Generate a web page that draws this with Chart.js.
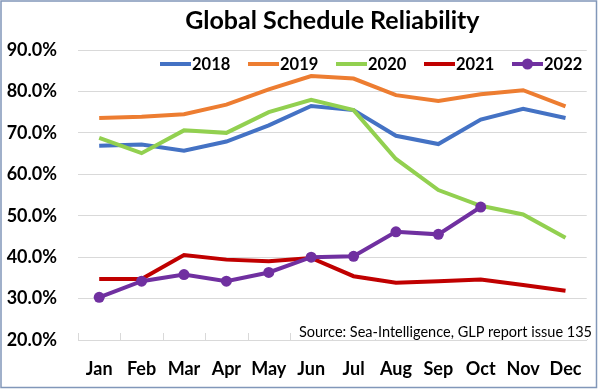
<!DOCTYPE html>
<html>
<head>
<meta charset="utf-8">
<script src="https://cdn.jsdelivr.net/npm/chart.js@4/dist/chart.umd.min.js"></script>
<style>
  html, body { margin: 0; padding: 0; background: #fff; }
  #wrap { width: 600px; height: 390px; position: relative; }
</style>
</head>
<body>
<div id="wrap"><canvas id="chart" width="600" height="390"></canvas></div>
<script>
// ---- data ----
const months = ['Jan', 'Feb', 'Mar', 'Apr', 'May', 'Jun', 'Jul', 'Aug', 'Sep', 'Oct', 'Nov', 'Dec'];
const years = ['2018', '2019', '2020', '2021', '2022'];
const rel2018 = [66.9, 67.2, 65.7, 67.9, 71.8, 76.5, 75.5, 69.3, 67.3, 73.2, 75.8, 73.6];
const rel2019 = [73.6, 73.9, 74.5, 76.8, 80.5, 83.7, 83.1, 79.1, 77.7, 79.3, 80.3, 76.4];
const rel2020 = [68.8, 65.1, 70.6, 70.0, 75.0, 78.0, 75.5, 63.7, 56.2, 52.4, 50.3, 44.7];
const rel2021 = [34.7, 34.7, 40.5, 39.4, 39.0, 39.8, 35.4, 33.8, 34.2, 34.6, 33.3, 31.9];
const rel2022 = [30.3, 34.2, 35.8, 34.2, 36.3, 40.0, 40.2, 46.1, 45.5, 52.1];
const yTicks = [20, 30, 40, 50, 60, 70, 80, 90];
const sourceNote = 'Source: Sea-Intelligence, GLP report issue 135';

const seriesColors = ['#4472C4', '#ED7D31', '#92D050', '#C00000', '#7030A0'];
const seriesData = [rel2018, rel2019, rel2020, rel2021, rel2022];

Chart.defaults.font.family = 'Lato, "Open Sans", sans-serif';
Chart.defaults.color = '#000';

const datasets = years.map((y, i) => ({
    label: y,
    data: seriesData[i],
    borderColor: seriesColors[i],
    backgroundColor: seriesColors[i],
    borderWidth: 4,
    tension: 0,
    pointRadius: i === 4 ? 5.5 : 0,
    pointHoverRadius: i === 4 ? 5.5 : 0,
    pointBorderWidth: 0,
    order: 5 - i,   // later years drawn on top
}));

/* ---- overlay: inward ticks, source note, legend, frame ---- */
const overlay = {
    id: 'overlay',
    afterDraw(chart) {
        const ctx = chart.ctx;
        const xs = chart.scales.x;
        const bottom = chart.chartArea.bottom;
        ctx.save();

        // small tick marks pointing up at category boundaries
        ctx.strokeStyle = '#d9d9d9';
        ctx.lineWidth = 1;
        const step = xs.width / months.length;
        for (let i = 0; i <= months.length; i++) {
            const x = Math.round(xs.left + i * step) + 0.5;
            ctx.beginPath();
            ctx.moveTo(x, bottom - 7);
            ctx.lineTo(x, bottom);
            ctx.stroke();
        }

        // source note with white box
        ctx.fillStyle = '#fff';
        ctx.fillRect(300, 322, 295, 17);
        ctx.fillStyle = '#000';
        ctx.font = '14.5px Lato, "Open Sans", sans-serif';
        ctx.textAlign = 'right';
        ctx.textBaseline = 'middle';
        ctx.fillText(sourceNote, 592, 332);

        // legend
        ctx.font = 'bold 16.5px Lato, "Open Sans", sans-serif';
        ctx.textAlign = 'left';
        chart.data.datasets.forEach((ds, i) => {
            const x0 = 160 + i * 88;
            const y = 64;
            ctx.strokeStyle = ds.borderColor;
            ctx.lineWidth = 4;
            ctx.beginPath();
            ctx.moveTo(x0, y);
            ctx.lineTo(x0 + 31, y);
            ctx.stroke();
            if (ds.pointRadius > 0) {
                ctx.fillStyle = ds.borderColor;
                ctx.beginPath();
                ctx.arc(x0 + 15.5, y, ds.pointRadius, 0, Math.PI * 2);
                ctx.fill();
            }
            ctx.fillStyle = '#000';
            ctx.fillText(ds.label, x0 + 32, y + 1);
        });

        // frame
        ctx.strokeStyle = '#8197b9';
        ctx.lineWidth = 1.5;
        ctx.strokeRect(1, 1, 595.5, 386.5);
        ctx.restore();
    }
};

new Chart(document.getElementById('chart'), {
    type: 'line',
    data: { labels: months, datasets },
    plugins: [overlay],
    options: {
        responsive: false,
        animation: false,
        layout: { padding: { left: 0, right: 1, top: 0, bottom: 0 } },
        plugins: {
            legend: { display: false },
            tooltip: { enabled: false },
            title: {
                display: true,
                text: 'Global Schedule Reliability',
                fullSize: false,
                color: '#000',
                font: { size: 25, weight: 'bold', lineHeight: 1.2 },
                padding: { top: 6, bottom: 14 },
            },
        },
        scales: {
            x: {
                offset: true,
                grid: { display: false, drawTicks: false },
                border: { display: true, color: '#d9d9d9', width: 1 },
                ticks: {
                    padding: 18,
                    color: '#000',
                    font: { size: 18, weight: 'bold' },
                    maxRotation: 0,
                    autoSkip: false,
                },
                afterFit(scale) { scale.height = 50; },
            },
            y: {
                min: yTicks[0],
                max: yTicks[yTicks.length - 1],
                afterBuildTicks(scale) { scale.ticks = yTicks.map(v => ({ value: v })); },
                grid: { color: '#d9d9d9', lineWidth: 1, drawTicks: false },
                border: { display: false },
                ticks: {
                    padding: 21,
                    color: '#000',
                    font: { size: 18, weight: 'bold' },
                    callback: v => v.toFixed(1) + '%',
                },
                afterFit(scale) { scale.width = 78; },
            },
        },
    },
});
</script>
</body>
</html>
